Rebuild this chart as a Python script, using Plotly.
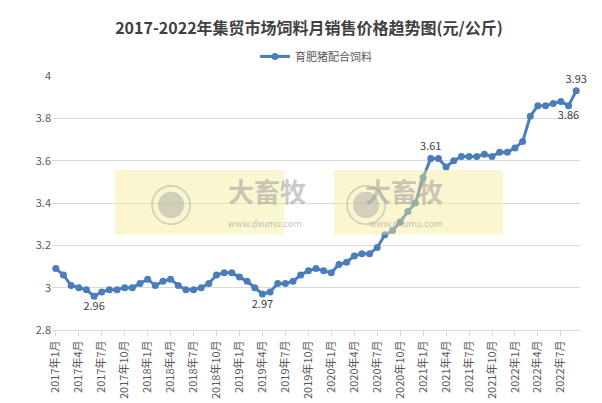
import plotly.graph_objects as go

# 月份与价格（元/公斤）
months = [f"{y}年{m}月" for y in range(2017, 2023) for m in range(1, 13)][:69]
prices = [3.09, 3.06, 3.01, 3.00, 2.99, 2.96, 2.98, 2.99, 2.99, 3.00, 3.00, 3.02,
          3.04, 3.01, 3.03, 3.04, 3.01, 2.99, 2.99, 3.00, 3.02, 3.06, 3.07, 3.07,
          3.05, 3.03, 3.00, 2.97, 2.98, 3.02, 3.02, 3.03, 3.06, 3.08, 3.09, 3.08,
          3.07, 3.11, 3.12, 3.15, 3.16, 3.16, 3.19, 3.25, 3.27, 3.31, 3.36, 3.40,
          3.52, 3.61, 3.61, 3.57, 3.60, 3.62, 3.62, 3.62, 3.63, 3.62, 3.64, 3.64,
          3.66, 3.69, 3.81, 3.86, 3.86, 3.87, 3.88, 3.86, 3.93]
label_idx = {5: "bottom", 27: "bottom", 49: "top", 67: "bottom", 68: "top"}

texts = [f"{v:.2f}" if i in label_idx else "" for i, v in enumerate(prices)]
positions = [label_idx.get(i, "top") + " center" for i in range(len(prices))]

fig = go.Figure()
fig.add_trace(go.Scatter(
    x=months, y=prices, mode="lines+markers+text", name="育肥猪配合饲料",
    line=dict(color="#4a7ebb", width=3), marker=dict(size=7, color="#4a7ebb"),
    text=texts, textposition=positions, textfont=dict(size=11, color="#404040"),
    cliponaxis=False,
))

# 水印
for x0 in (0.12, 0.534):
    fig.add_shape(type="rect", xref="paper", yref="paper", x0=x0, x1=x0 + 0.32,
                  y0=0.375, y1=0.63, fillcolor="rgba(245,235,150,0.45)",
                  line_width=0, layer="above")
    fig.add_annotation(xref="paper", yref="paper", x=x0 + 0.06, y=0.5, text="◉",
                       showarrow=False, font=dict(size=44, color="rgba(160,160,160,0.45)"))
    fig.add_annotation(xref="paper", yref="paper", x=x0 + 0.21, y=0.55, text="<b>大畜牧</b>",
                       showarrow=False, font=dict(size=26, color="rgba(150,150,150,0.5)"))
    fig.add_annotation(xref="paper", yref="paper", x=x0 + 0.21, y=0.42, text="www.dxumu.com",
                       showarrow=False, font=dict(size=9, color="rgba(150,150,150,0.6)"))

fig.update_layout(
    width=602, height=403, plot_bgcolor="white", paper_bgcolor="white",
    margin=dict(l=44, r=30, t=68, b=75),
    font=dict(family="Noto Sans CJK SC", color="#595959", size=11),
    title=dict(text="<b>2017-2022年集贸市场饲料月销售价格趋势图(元/公斤)</b>",
               x=0.5, y=0.95, xanchor="center", yanchor="middle",
               font=dict(size=16, color="#404040")),
    legend=dict(orientation="h", x=0.5, xanchor="center", y=1.02, yanchor="bottom",
                font=dict(size=11)),
    showlegend=True,
)
fig.update_xaxes(tickvals=months[::3], tickangle=-90, showgrid=False,
                 range=[-0.5, len(months) - 0.5],
                 showline=True, linecolor="#d9d9d9", ticks="outside",
                 tickcolor="#d9d9d9", tickfont=dict(size=11))
fig.update_yaxes(range=[2.8, 4.0], dtick=0.2, showgrid=True, gridcolor="#d9d9d9",
                 zeroline=False, tickformat="~g", tickfont=dict(size=11))

fig.write_html("out.html")
